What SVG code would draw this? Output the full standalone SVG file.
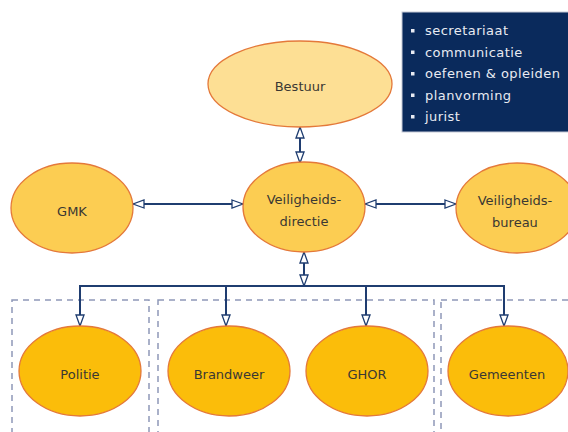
<svg xmlns="http://www.w3.org/2000/svg" width="568" height="432" viewBox="0 0 568 432">
<style>
  .node text { font-family: "DejaVu Sans", "Liberation Sans", sans-serif; font-size: 13px; fill: #3a3833; text-anchor: middle; }
  .e { stroke: #e4793a; stroke-width: 1.3; }
  .light { fill: #fddf94; }
  .mid { fill: #fccd52; }
  .strong { fill: #fbbd0a; }
  .conn line { stroke: #1f3d70; stroke-width: 2; fill: none; }
  .dash { fill: none; stroke: #8e98b8; stroke-width: 1.5; stroke-dasharray: 6 5; }
  .info text { font-family: "DejaVu Sans", "Liberation Sans", sans-serif; font-size: 13px; fill: #e8eaf2; letter-spacing: 0.45px; }
</style>
<defs>
  <marker id="ah" viewBox="0 0 13 10" refX="12" refY="5" markerWidth="13" markerHeight="10" markerUnits="userSpaceOnUse" orient="auto-start-reverse">
    <path d="M1,1 L12,5 L1,9 Z" fill="#ffffff" stroke="#1f3d70" stroke-width="1.3" stroke-linejoin="miter"/>
  </marker>
</defs>
<rect width="568" height="432" fill="#ffffff"/>

<g id="groups">
  <rect class="dash" x="12" y="300" width="137" height="150"/>
  <rect class="dash" x="158" y="300" width="276" height="150"/>
  <rect class="dash" x="441" y="300" width="140" height="150"/>
</g>

<g id="info" class="info">
  <rect x="402" y="12" width="172" height="120" fill="#0a2a5c" stroke="#c5c9d6" stroke-width="1"/>
  <rect x="411" y="29" width="3.5" height="3.5" fill="#e8eaf2"/>
  <rect x="411" y="50.5" width="3.5" height="3.5" fill="#e8eaf2"/>
  <rect x="411" y="72" width="3.5" height="3.5" fill="#e8eaf2"/>
  <rect x="411" y="93.5" width="3.5" height="3.5" fill="#e8eaf2"/>
  <rect x="411" y="115" width="3.5" height="3.5" fill="#e8eaf2"/>
  <text x="425" y="35">secretariaat</text>
  <text x="425" y="56.5">communicatie</text>
  <text x="425" y="78">oefenen &amp; opleiden</text>
  <text x="425" y="99.5">planvorming</text>
  <text x="425" y="121">jurist</text>
</g>

<g id="connectors" class="conn">
  <line x1="300" y1="127" x2="300" y2="163" marker-start="url(#ah)" marker-end="url(#ah)"/>
  <line x1="133" y1="204" x2="243" y2="204" marker-start="url(#ah)" marker-end="url(#ah)"/>
  <line x1="365" y1="204" x2="456" y2="204" marker-start="url(#ah)" marker-end="url(#ah)"/>
  <line x1="304" y1="252" x2="304" y2="286" marker-start="url(#ah)" marker-end="url(#ah)"/>
  <line x1="79" y1="286" x2="505" y2="286"/>
  <line x1="80" y1="286" x2="80" y2="326" marker-end="url(#ah)"/>
  <line x1="226" y1="286" x2="226" y2="326" marker-end="url(#ah)"/>
  <line x1="366" y1="286" x2="366" y2="326" marker-end="url(#ah)"/>
  <line x1="504" y1="286" x2="504" y2="326" marker-end="url(#ah)"/>
</g>

<g id="bestuur" class="node">
  <ellipse class="e light" cx="300" cy="84" rx="92" ry="43"/>
  <text x="300" y="91">Bestuur</text>
</g>
<g id="gmk" class="node">
  <ellipse class="e mid" cx="72" cy="208" rx="61" ry="45"/>
  <text x="72" y="216">GMK</text>
</g>
<g id="veiligheidsdirectie" class="node">
  <ellipse class="e mid" cx="304" cy="207" rx="61" ry="45"/>
  <text x="304" y="204">Veiligheids-</text>
  <text x="304" y="226">directie</text>
</g>
<g id="veiligheidsbureau" class="node">
  <ellipse class="e mid" cx="517" cy="208" rx="61" ry="45"/>
  <text x="515" y="205">Veiligheids-</text>
  <text x="515" y="227">bureau</text>
</g>
<g id="politie" class="node">
  <ellipse class="e strong" cx="80" cy="371" rx="61" ry="45"/>
  <text x="80" y="379">Politie</text>
</g>
<g id="brandweer" class="node">
  <ellipse class="e strong" cx="229" cy="371" rx="61" ry="45"/>
  <text x="229" y="379">Brandweer</text>
</g>
<g id="ghor" class="node">
  <ellipse class="e strong" cx="367" cy="371" rx="61" ry="45"/>
  <text x="367" y="379">GHOR</text>
</g>
<g id="gemeenten" class="node">
  <ellipse class="e strong" cx="508" cy="371" rx="60" ry="45"/>
  <text x="507" y="379">Gemeenten</text>
</g>
</svg>
